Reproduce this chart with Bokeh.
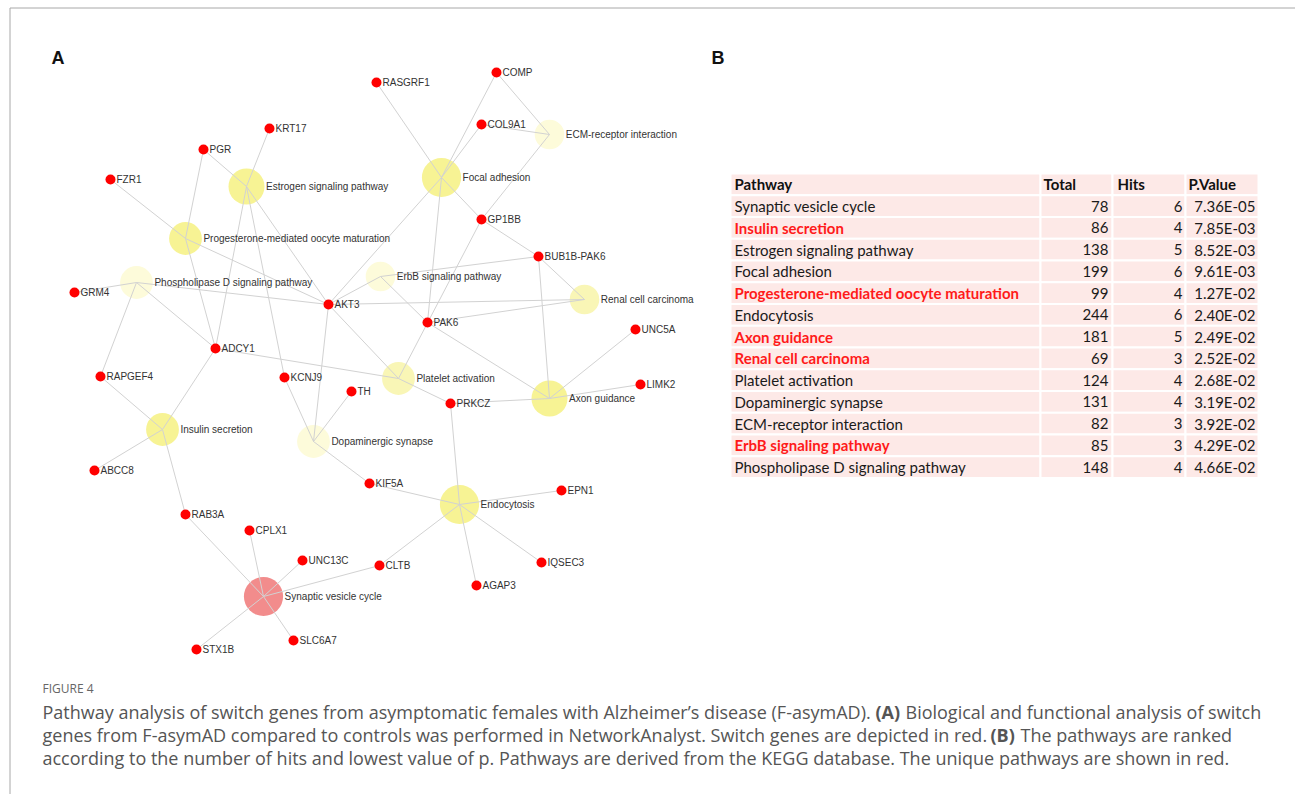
from bokeh.plotting import figure
from bokeh.models import ColumnDataSource, Range1d
from bokeh.embed import file_html
from bokeh.resources import INLINE
from bokeh.core.properties import value

# ---------------- data ----------------
# KEGG pathways enriched among the switch genes (panel B table)
pathways = [
    "Synaptic vesicle cycle",
    "Insulin secretion",
    "Estrogen signaling pathway",
    "Focal adhesion",
    "Progesterone-mediated oocyte maturation",
    "Endocytosis",
    "Axon guidance",
    "Renal cell carcinoma",
    "Platelet activation",
    "Dopaminergic synapse",
    "ECM-receptor interaction",
    "ErbB signaling pathway",
    "Phospholipase D signaling pathway",
]
totals = [78, 86, 138, 199, 99, 244, 181, 69, 124, 131, 82, 85, 148]
hits = [6, 4, 5, 6, 4, 6, 5, 3, 4, 4, 3, 3, 4]
p_values = [7.36e-05, 7.85e-03, 8.52e-03, 9.61e-03, 1.27e-02, 2.40e-02,
            2.49e-02, 2.52e-02, 2.68e-02, 3.19e-02, 3.92e-02, 4.29e-02, 4.66e-02]
unique = [False, True, False, False, True, False, True, True,
          False, False, False, True, False]
table_header = ["Pathway", "Total", "Hits", "P.Value"]

# switch genes
genes = ["RASGRF1", "COMP", "COL9A1", "KRT17", "PGR", "FZR1", "GP1BB",
         "BUB1B-PAK6", "GRM4", "AKT3", "ADCY1", "RAPGEF4", "KCNJ9", "TH",
         "ABCC8", "KIF5A", "PAK6", "UNC5A", "LIMK2", "PRKCZ", "EPN1", "RAB3A",
         "CPLX1", "UNC13C", "CLTB", "IQSEC3", "AGAP3", "SLC6A7", "STX1B"]

# network links (pathway / gene)
edges = [
    ("Synaptic vesicle cycle", "RAB3A"), ("Synaptic vesicle cycle", "CPLX1"),
    ("Synaptic vesicle cycle", "UNC13C"), ("Synaptic vesicle cycle", "CLTB"),
    ("Synaptic vesicle cycle", "SLC6A7"), ("Synaptic vesicle cycle", "STX1B"),
    ("Insulin secretion", "ADCY1"), ("Insulin secretion", "RAPGEF4"),
    ("Insulin secretion", "ABCC8"), ("Insulin secretion", "RAB3A"),
    ("Estrogen signaling pathway", "KRT17"), ("Estrogen signaling pathway", "PGR"),
    ("Estrogen signaling pathway", "ADCY1"), ("Estrogen signaling pathway", "KCNJ9"),
    ("Estrogen signaling pathway", "AKT3"),
    ("Focal adhesion", "RASGRF1"), ("Focal adhesion", "COMP"),
    ("Focal adhesion", "COL9A1"), ("Focal adhesion", "AKT3"),
    ("Focal adhesion", "PAK6"), ("Focal adhesion", "GP1BB"),
    ("GP1BB", "BUB1B-PAK6"),
    ("Progesterone-mediated oocyte maturation", "PGR"),
    ("Progesterone-mediated oocyte maturation", "FZR1"),
    ("Progesterone-mediated oocyte maturation", "ADCY1"),
    ("Progesterone-mediated oocyte maturation", "AKT3"),
    ("Endocytosis", "PRKCZ"), ("Endocytosis", "KIF5A"), ("Endocytosis", "EPN1"),
    ("Endocytosis", "IQSEC3"), ("Endocytosis", "AGAP3"), ("Endocytosis", "CLTB"),
    ("Axon guidance", "BUB1B-PAK6"), ("Axon guidance", "PAK6"),
    ("Axon guidance", "UNC5A"), ("Axon guidance", "LIMK2"), ("Axon guidance", "PRKCZ"),
    ("Renal cell carcinoma", "AKT3"), ("Renal cell carcinoma", "PAK6"),
    ("Renal cell carcinoma", "BUB1B-PAK6"),
    ("Platelet activation", "GP1BB"), ("Platelet activation", "AKT3"),
    ("Platelet activation", "ADCY1"), ("Platelet activation", "PRKCZ"),
    ("Dopaminergic synapse", "KCNJ9"), ("Dopaminergic synapse", "TH"),
    ("Dopaminergic synapse", "AKT3"), ("Dopaminergic synapse", "KIF5A"),
    ("ECM-receptor interaction", "COMP"), ("ECM-receptor interaction", "COL9A1"),
    ("ECM-receptor interaction", "GP1BB"),
    ("ErbB signaling pathway", "AKT3"), ("ErbB signaling pathway", "PAK6"),
    ("ErbB signaling pathway", "BUB1B-PAK6"),
    ("Phospholipase D signaling pathway", "GRM4"),
    ("Phospholipase D signaling pathway", "RAPGEF4"),
    ("Phospholipase D signaling pathway", "ADCY1"),
    ("Phospholipase D signaling pathway", "AKT3"),
]

# figure caption: each line split into (text, bold) runs
caption_title = "FIGURE 4"
caption_lines = [
    [("Pathway analysis of switch genes from asymptomatic females with Alzheimer\u2019s "
      "disease (F-asymAD).", False), ("(A)", True),
     ("Biological and functional analysis of switch", False)],
    [("genes from F-asymAD compared to controls was performed in NetworkAnalyst. "
      "Switch genes are depicted in red.", False), ("(B)", True),
     ("The pathways are ranked", False)],
    [("according to the number of hits and lowest value of p. Pathways are derived "
      "from the KEGG database. The unique pathways are shown in red.", False)],
]

# ---------------- network layout (screen pixels) ----------------
layout = {
    "Estrogen signaling pathway": (246, 186),
    "Progesterone-mediated oocyte maturation": (185, 238),
    "Phospholipase D signaling pathway": (136, 282),
    "Focal adhesion": (441, 177),
    "ECM-receptor interaction": (549, 134),
    "ErbB signaling pathway": (380, 276),
    "Renal cell carcinoma": (584, 299),
    "Platelet activation": (398, 378),
    "Axon guidance": (549, 398),
    "Insulin secretion": (162, 429),
    "Dopaminergic synapse": (313, 441),
    "Endocytosis": (459, 504),
    "Synaptic vesicle cycle": (263, 596),
    "RASGRF1": (376, 82), "COMP": (496, 72), "COL9A1": (481, 124),
    "KRT17": (269, 128), "PGR": (203, 149), "FZR1": (110, 179),
    "GP1BB": (481, 219), "BUB1B-PAK6": (538, 256), "GRM4": (74, 292),
    "AKT3": (328, 304), "ADCY1": (215, 348), "RAPGEF4": (100, 376),
    "KCNJ9": (284, 377), "TH": (351, 391), "ABCC8": (94, 470),
    "KIF5A": (369, 483), "PAK6": (427, 322), "UNC5A": (635, 329),
    "LIMK2": (640, 384), "PRKCZ": (450, 403), "EPN1": (561, 490),
    "RAB3A": (185, 514), "CPLX1": (249, 530), "UNC13C": (302, 560),
    "CLTB": (379, 565), "IQSEC3": (541, 562), "AGAP3": (476, 585),
    "SLC6A7": (293, 640), "STX1B": (196, 649),
}

W, H = 1295, 794
LABEL_FONT = value("Liberation Sans")
TABLE_FONT = value("Lato")
CAPTION_FONT = value("Open Sans")


def pathway_fill(p):
    if p < 1e-3:
        return "#f28c8c"
    if p < 0.025:
        return "#f7f394"
    if p < 0.03:
        return "#f9f6b6"
    return "#fdfbda"


p = figure(width=W, height=H, x_range=Range1d(0, W), y_range=Range1d(H, 0),
           output_backend="svg", toolbar_location=None, min_border=0,
           x_axis_location=None, y_axis_location=None)
p.grid.visible = False
p.outline_line_color = None
p.background_fill_color = "white"
p.border_fill_color = "white"

# figure frame (top and left rules)
p.segment(x0=[9.5, 9.5], y0=[7.5, 7.5], x1=[W, 9.5], y1=[7.5, H],
          line_color="#a8a8a8", line_width=1)

# panel letters
p.text(x=[51, 711], y=[57, 57], text=["A", "B"], text_font=value("Liberation Sans"),
       text_font_style="bold", text_font_size="18px", text_baseline="middle",
       text_color="#111111")

# ---------------- panel A: network ----------------
radii = [10 + 1.6 * h for h in hits]
pw_src = ColumnDataSource(dict(
    x=[layout[n][0] for n in pathways],
    y=[layout[n][1] for n in pathways],
    r=radii,
    fill=[pathway_fill(v) for v in p_values],
    label=pathways,
    lx=[layout[n][0] + r + 1.5 for n, r in zip(pathways, radii)],
))
p.circle(x="x", y="y", radius="r", fill_color="fill", line_color=None, source=pw_src)

p.segment(x0=[layout[a][0] for a, b in edges], y0=[layout[a][1] for a, b in edges],
          x1=[layout[b][0] for a, b in edges], y1=[layout[b][1] for a, b in edges],
          line_color="#d2d2d2", line_width=1)

gene_src = ColumnDataSource(dict(
    x=[layout[g][0] for g in genes],
    y=[layout[g][1] for g in genes],
    label=genes,
    lx=[layout[g][0] + 6 for g in genes],
))
p.circle(x="x", y="y", radius=5, fill_color="#ff0000", line_color=None, source=gene_src)

p.text(x="lx", y="y", text="label", source=pw_src, text_font=LABEL_FONT,
       text_font_size="10px", text_baseline="middle", text_color="#333333")
p.text(x="lx", y="y", text="label", source=gene_src, text_font=LABEL_FONT,
       text_font_size="10px", text_baseline="middle", text_color="#333333")

# ---------------- panel B: table ----------------
col_edges = [730, 1040, 1112, 1185, 1258]
row_top, row_h = 173.0, 21.75
n_rows = len(pathways) + 1

cells = dict(left=[], right=[], top=[], bottom=[])
for r in range(n_rows):
    for c in range(4):
        cells["left"].append(col_edges[c])
        cells["right"].append(col_edges[c + 1])
        cells["top"].append(row_top + r * row_h)
        cells["bottom"].append(row_top + (r + 1) * row_h)
p.quad(source=ColumnDataSource(cells), fill_color="#fde9e7", line_color="white",
       line_width=2)

row_y = [row_top + (i + 1.5) * row_h for i in range(len(pathways))]
head_y = row_top + 0.5 * row_h

# header
p.text(x=[734, 1043, 1117, 1188], y=[head_y] * 4, text=table_header,
       text_font=TABLE_FONT, text_font_style="bold", text_font_size="15px",
       text_baseline="middle", text_color="#111111")

# pathway names, red bold for pathways unique to this group
name_src = ColumnDataSource(dict(
    x=[734] * len(pathways), y=row_y, text=pathways,
    color=["#ff1a1a" if u else "#1a1a1a" for u in unique],
    style=["bold" if u else "normal" for u in unique],
))
p.text(x="x", y="y", text="text", source=name_src, text_color="color",
       text_font_style="style", text_font=TABLE_FONT, text_font_size="15px",
       text_baseline="middle")

num_common = dict(text_font=TABLE_FONT, text_font_size="15px",
                  text_baseline="middle", text_align="right", text_color="#1a1a1a")
p.text(x=[1108] * len(totals), y=row_y, text=[str(t) for t in totals], **num_common)
p.text(x=[1182] * len(hits), y=row_y, text=[str(h) for h in hits], **num_common)
p.text(x=[1255] * len(p_values), y=row_y, text=["%.2E" % v for v in p_values],
       **num_common)

# ---------------- caption ----------------
p.text(x=[42], y=[688], text=[caption_title], text_font=CAPTION_FONT,
       text_font_size="12px", text_baseline="middle", text_color="#666666")

# start offsets of each run within a caption line (Open Sans 18px advances)
run_x = [[42, 875, 905], [42, 990, 1020], [42]]
line_y = [711.5, 734.5, 757.5]
cap = dict(x=[], y=[], text=[], style=[])
for runs, xs, yy in zip(caption_lines, run_x, line_y):
    for (txt, bold), xx in zip(runs, xs):
        cap["x"].append(xx)
        cap["y"].append(yy)
        cap["text"].append(txt)
        cap["style"].append("bold" if bold else "normal")
p.text(x="x", y="y", text="text", text_font_style="style", source=ColumnDataSource(cap),
       text_font=CAPTION_FONT, text_font_size="18px", text_baseline="middle",
       text_color="#555555")

open("out.html", "w").write(file_html(p, INLINE))
